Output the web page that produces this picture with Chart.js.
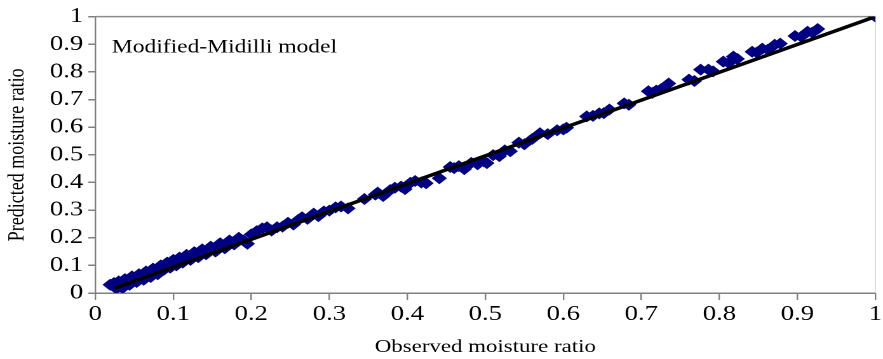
<!DOCTYPE html>
<html>
<head>
<meta charset="utf-8">
<script src="https://cdn.jsdelivr.net/npm/chart.js@4.4.0/dist/chart.umd.min.js"></script>
<style>
  html, body { margin: 0; padding: 0; background: #fff; overflow: hidden; }
  /* the source figure is stretched sideways, so the chart is drawn narrow and widened */
  #chart { transform: scaleX(1.2705); transform-origin: 0 0; }
</style>
</head>
<body>
<canvas id="chart" width="695" height="359"></canvas>
<script>
// observed vs predicted moisture ratio
const observed = [
  0.019, 0.024, 0.027, 0.030, 0.033, 0.035, 0.038, 0.041, 0.044, 0.047,
  0.050, 0.053, 0.056, 0.059, 0.062, 0.065, 0.068, 0.071, 0.074, 0.077,
  0.080, 0.084, 0.088, 0.092, 0.096, 0.100, 0.104, 0.108, 0.112, 0.117,
  0.122, 0.127, 0.132, 0.137, 0.142, 0.148, 0.154, 0.160, 0.166, 0.172,
  0.178, 0.184, 0.190, 0.195, 0.200, 0.207, 0.214, 0.220, 0.226, 0.233,
  0.240, 0.247, 0.254, 0.260, 0.265, 0.272, 0.280, 0.286, 0.293, 0.300,
  0.308, 0.315, 0.324, 0.345, 0.359, 0.362, 0.369, 0.378, 0.384, 0.392,
  0.397, 0.404, 0.410, 0.418, 0.424, 0.441, 0.455, 0.460, 0.466, 0.473,
  0.482, 0.490, 0.498, 0.502, 0.510, 0.518, 0.525, 0.532, 0.543, 0.550,
  0.560, 0.570, 0.580, 0.592, 0.600, 0.604, 0.630, 0.638, 0.646, 0.652,
  0.659, 0.678, 0.684, 0.709, 0.714, 0.719, 0.725, 0.735, 0.761, 0.768,
  0.776, 0.786, 0.792, 0.805, 0.812, 0.818, 0.823, 0.842, 0.848, 0.855,
  0.862, 0.871, 0.878, 0.897, 0.905, 0.913, 0.919, 0.926, 1.000
];
const predicted = [
  0.030, 0.036, 0.016, 0.042, 0.028, 0.018, 0.050, 0.036, 0.030, 0.060,
  0.046, 0.040, 0.068, 0.054, 0.048, 0.078, 0.064, 0.058, 0.088, 0.074,
  0.068, 0.100, 0.084, 0.110, 0.092, 0.120, 0.100, 0.128, 0.110, 0.138,
  0.120, 0.148, 0.130, 0.158, 0.140, 0.168, 0.150, 0.180, 0.162, 0.190,
  0.176, 0.200, 0.190, 0.178, 0.212, 0.224, 0.234, 0.238, 0.226, 0.238,
  0.240, 0.254, 0.248, 0.264, 0.274, 0.268, 0.287, 0.278, 0.295, 0.298,
  0.310, 0.313, 0.306, 0.340, 0.356, 0.363, 0.351, 0.372, 0.381, 0.385,
  0.376, 0.399, 0.405, 0.400, 0.397, 0.415, 0.456, 0.452, 0.459, 0.448,
  0.471, 0.466, 0.476, 0.470, 0.499, 0.495, 0.516, 0.513, 0.544, 0.538,
  0.557, 0.578, 0.575, 0.589, 0.592, 0.598, 0.639, 0.641, 0.650, 0.651,
  0.664, 0.686, 0.681, 0.730, 0.724, 0.732, 0.737, 0.758, 0.772, 0.767,
  0.808, 0.808, 0.802, 0.837, 0.832, 0.855, 0.847, 0.873, 0.870, 0.884,
  0.880, 0.898, 0.902, 0.930, 0.927, 0.945, 0.942, 0.955, 1.000
];
// fitted line end points
const fitX = [0.025, 1];
const fitY = [0.018, 1];
const axisMin = 0;
const axisMax = 1;
const tickStep = 0.1;

const serif = 'Liberation Serif';

const points = observed.map((x, i) => ({ x: x, y: predicted[i] }));
const fitLine = fitX.map((x, i) => ({ x: x, y: fitY[i] }));

// model name in the top-left of the plot, plus the thin frame lines
const plotDecor = {
    id: 'plotDecor',
    beforeDatasetsDraw(chart) {
        const { ctx, chartArea } = chart;
        ctx.save();
        ctx.lineWidth = 1.5;
        ctx.strokeStyle = '#8c8c8c';
        ctx.beginPath();
        ctx.moveTo(chartArea.left, chartArea.top);
        ctx.lineTo(chartArea.right, chartArea.top);
        ctx.stroke();
        ctx.strokeStyle = '#dcdcdc';
        ctx.lineWidth = 1;
        ctx.beginPath();
        ctx.moveTo(chartArea.right, chartArea.top);
        ctx.lineTo(chartArea.right, chartArea.bottom);
        ctx.stroke();
        ctx.restore();
    },
    afterDraw(chart) {
        const { ctx, chartArea } = chart;
        ctx.save();
        ctx.font = '18.5px "' + serif + '"';
        ctx.fillStyle = '#000';
        ctx.textBaseline = 'middle';
        ctx.fillText('Modified-Midilli model', chartArea.left + 13, chartArea.top + 31);
        ctx.restore();
    }
};

const tickFont = { family: serif, size: 21 };
const titleFont = { family: serif, size: 18 };

new Chart(document.getElementById('chart'), {
    type: 'scatter',
    data: {
        datasets: [
            {
                type: 'line',
                label: 'Fit',
                data: fitLine,
                borderColor: '#000000',
                borderWidth: 3.4,
                pointRadius: 0,
                fill: false,
                order: 0
            },
            {
                label: 'Modified-Midilli',
                data: points,
                pointStyle: 'rectRot',
                pointRadius: 6,
                backgroundColor: '#000080',
                borderColor: '#000080',
                borderWidth: 0,
                order: 1
            }
        ]
    },
    options: {
        responsive: false,
        animation: false,
        devicePixelRatio: 2,
        layout: { padding: { top: 13, right: 1.5, left: 0, bottom: 0 } },
        plugins: {
            legend: { display: false },
            tooltip: { enabled: false }
        },
        scales: {
            x: {
                type: 'linear',
                min: axisMin,
                max: axisMax,
                ticks: {
                    stepSize: tickStep,
                    autoSkip: false,
                    font: tickFont,
                    color: '#000',
                    padding: 2,
                    maxRotation: 0,
                    callback: v => String(+v.toFixed(1))
                },
                grid: { drawOnChartArea: false, tickLength: 7, color: '#808080', lineWidth: 1.2 },
                border: { color: '#808080', width: 1.5 },
                title: {
                    display: true,
                    text: 'Observed moisture ratio',
                    font: titleFont,
                    color: '#000',
                    padding: { top: 0, bottom: 1 }
                },
                afterFit(scale) {
                    scale.height = 66;
                    scale.paddingLeft = 0;
                    scale.paddingRight = 0;
                }
            },
            y: {
                type: 'linear',
                min: axisMin,
                max: axisMax,
                ticks: {
                    stepSize: tickStep,
                    autoSkip: false,
                    font: tickFont,
                    color: '#000',
                    padding: 4,
                    callback: v => String(+v.toFixed(1))
                },
                grid: { drawOnChartArea: false, tickLength: 5.5, color: '#808080', lineWidth: 1.5 },
                border: { color: '#808080', width: 1.2 },
                title: {
                    display: true,
                    text: 'Predicted moisture ratio',
                    font: titleFont,
                    color: '#000',
                    padding: { top: 3, bottom: 0 }
                },
                afterFit(scale) {
                    scale.width = 75;
                }
            }
        }
    },
    plugins: [plotDecor]
});
</script>
</body>
</html>
